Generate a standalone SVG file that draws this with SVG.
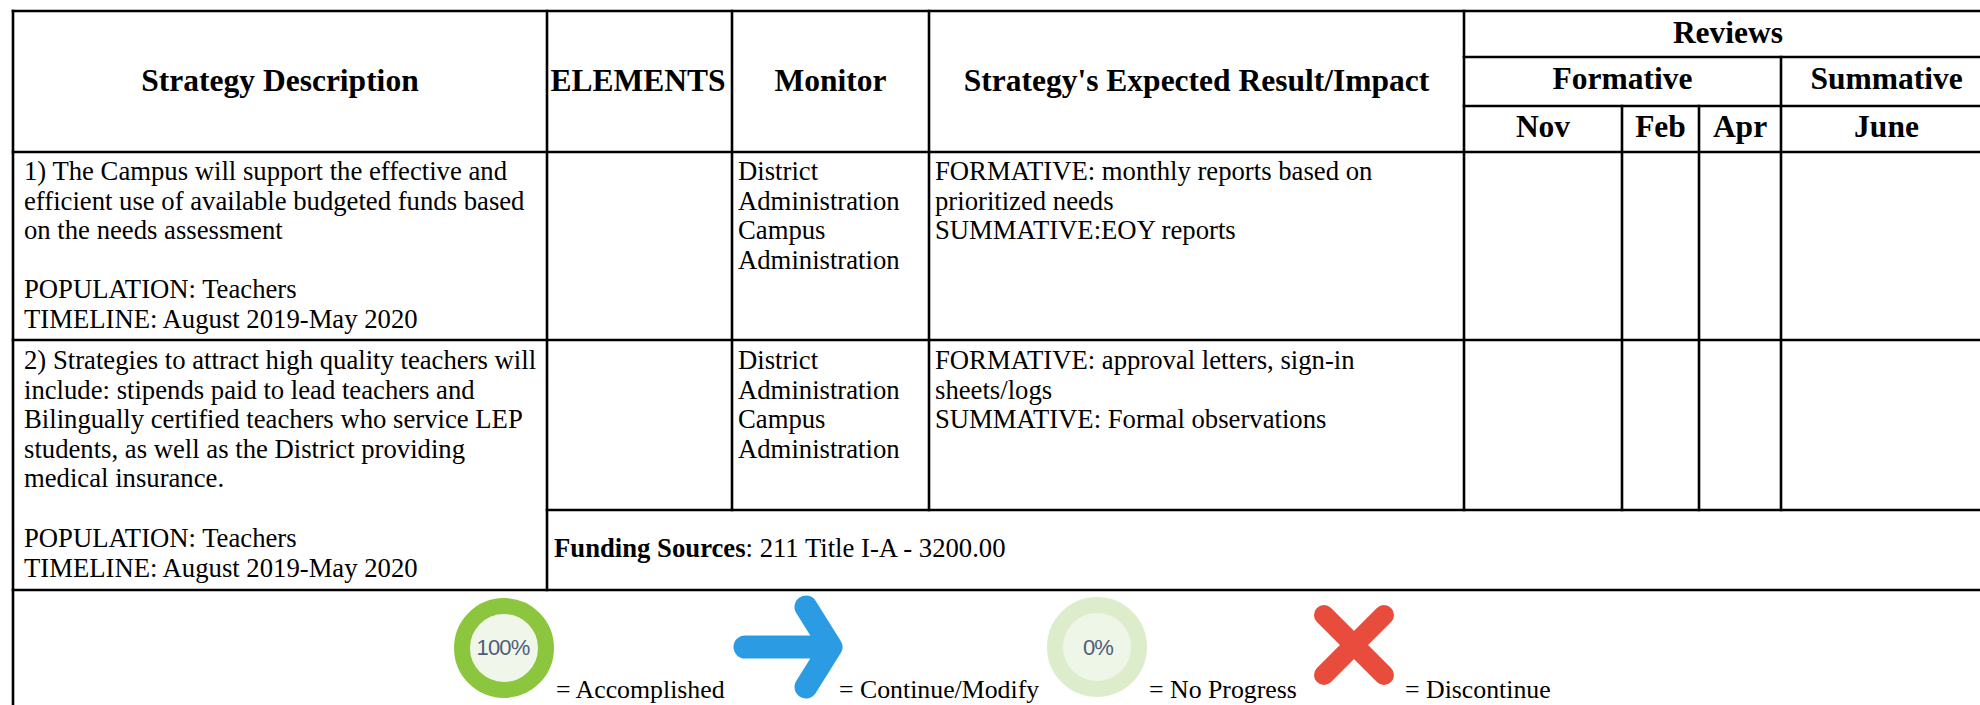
<svg xmlns="http://www.w3.org/2000/svg" width="1980" height="705" viewBox="0 0 1980 705">
<style>
.bg{fill:#ffffff}
.ln{stroke:#000;stroke-width:2.6;fill:none;stroke-linecap:square}
.h{font-family:"Liberation Serif","Times New Roman",serif;font-weight:bold;font-size:31.5px;fill:#000;text-anchor:middle}
.t{font-family:"Liberation Serif","Times New Roman",serif;font-size:26.7px;fill:#000}
.lg{font-size:25.8px}
.b{font-weight:bold}
.pct{font-family:"Liberation Sans",Arial,sans-serif;font-size:22px;fill:#4f5d7a;text-anchor:middle;letter-spacing:-0.8px}
</style>
<rect class="bg" x="0" y="0" width="1980" height="705"/>
<g id="grid">
<line class="ln" x1="13" y1="11" x2="1992" y2="11"/>
<line class="ln" x1="1464" y1="57" x2="1992" y2="57"/>
<line class="ln" x1="1464" y1="106" x2="1992" y2="106"/>
<line class="ln" x1="13" y1="152" x2="1992" y2="152"/>
<line class="ln" x1="13" y1="340" x2="1992" y2="340"/>
<line class="ln" x1="547" y1="510" x2="1992" y2="510"/>
<line class="ln" x1="13" y1="590" x2="1992" y2="590"/>
<line class="ln" x1="13" y1="11" x2="13" y2="720"/>
<line class="ln" x1="547" y1="11" x2="547" y2="590"/>
<line class="ln" x1="732" y1="11" x2="732" y2="510"/>
<line class="ln" x1="929" y1="11" x2="929" y2="510"/>
<line class="ln" x1="1464" y1="11" x2="1464" y2="510"/>
<line class="ln" x1="1622" y1="106" x2="1622" y2="510"/>
<line class="ln" x1="1699" y1="106" x2="1699" y2="510"/>
<line class="ln" x1="1781" y1="57" x2="1781" y2="510"/>
<line class="ln" x1="1992" y1="11" x2="1992" y2="720"/>
</g>
<g id="header">
<text class="h" x="280" y="91">Strategy Description</text>
<text class="h" x="638" y="91">ELEMENTS</text>
<text class="h" x="830.5" y="91">Monitor</text>
<text class="h" x="1196.5" y="91">Strategy's Expected Result/Impact</text>
<text class="h" x="1728" y="43">Reviews</text>
<text class="h" x="1622.5" y="89">Formative</text>
<text class="h" x="1886.5" y="89">Summative</text>
<text class="h" x="1543" y="137">Nov</text>
<text class="h" x="1660.5" y="137">Feb</text>
<text class="h" x="1740" y="137">Apr</text>
<text class="h" x="1886.5" y="137">June</text>
</g>
<g id="row1">
<text class="t" x="24" y="180">1) The Campus will support the effective and</text>
<text class="t" x="24" y="209.6">efficient use of available budgeted funds based</text>
<text class="t" x="24" y="239.2">on the needs assessment</text>
<text class="t" x="24" y="298.4">POPULATION: Teachers</text>
<text class="t" x="24" y="328">TIMELINE: August 2019-May 2020</text>
<text class="t" x="738" y="180">District</text>
<text class="t" x="738" y="209.6">Administration</text>
<text class="t" x="738" y="239.2">Campus</text>
<text class="t" x="738" y="268.8">Administration</text>
<text class="t" x="935" y="180">FORMATIVE: monthly reports based on</text>
<text class="t" x="935" y="209.6">prioritized needs</text>
<text class="t" x="935" y="239.2">SUMMATIVE:EOY reports</text>
</g>
<g id="row2">
<text class="t" x="24" y="369">2) Strategies to attract high quality teachers will</text>
<text class="t" x="24" y="398.6">include: stipends paid to lead teachers and</text>
<text class="t" x="24" y="428.2">Bilingually certified teachers who service LEP</text>
<text class="t" x="24" y="457.8">students, as well as the District providing</text>
<text class="t" x="24" y="487.4">medical insurance.</text>
<text class="t" x="24" y="547">POPULATION: Teachers</text>
<text class="t" x="24" y="576.6">TIMELINE: August 2019-May 2020</text>
<text class="t" x="738" y="369">District</text>
<text class="t" x="738" y="398.6">Administration</text>
<text class="t" x="738" y="428.2">Campus</text>
<text class="t" x="738" y="457.8">Administration</text>
<text class="t" x="935" y="369">FORMATIVE: approval letters, sign-in</text>
<text class="t" x="935" y="398.6">sheets/logs</text>
<text class="t" x="935" y="428.2">SUMMATIVE: Formal observations</text>
</g>
<g id="funding">
<text class="t" x="554" y="557"><tspan class="b">Funding Sources</tspan>: 211 Title I-A - 3200.00</text>
</g>
<g id="legend">
<g id="accomplished">
<circle cx="504" cy="648" r="42" fill="#f0f6e9" stroke="#8cc63f" stroke-width="16"/>
<text class="pct" x="503" y="655">100%</text>
<text class="t lg" x="556" y="698">= Accomplished</text>
</g>
<g id="continue">
<path d="M745,647 H828" stroke="#2b9be3" stroke-width="23" stroke-linecap="round" fill="none"/>
<path d="M806,607 L831,647 L806,687" stroke="#2b9be3" stroke-width="23" stroke-linecap="round" stroke-linejoin="round" fill="none"/>
<text class="t lg" x="839" y="698">= Continue/Modify</text>
</g>
<g id="noprogress">
<circle cx="1097" cy="647" r="42" fill="#eef6e7" stroke="#ddedcb" stroke-width="16"/>
<text class="pct" x="1098" y="655">0%</text>
<text class="t lg" x="1149" y="698">= No Progress</text>
</g>
<g id="discontinue">
<path d="M1324,615 L1384,675 M1384,615 L1324,675" stroke="#e74c3c" stroke-width="20" stroke-linecap="round" fill="none"/>
<text class="t lg" x="1405" y="698">= Discontinue</text>
</g>
</g>
</svg>
